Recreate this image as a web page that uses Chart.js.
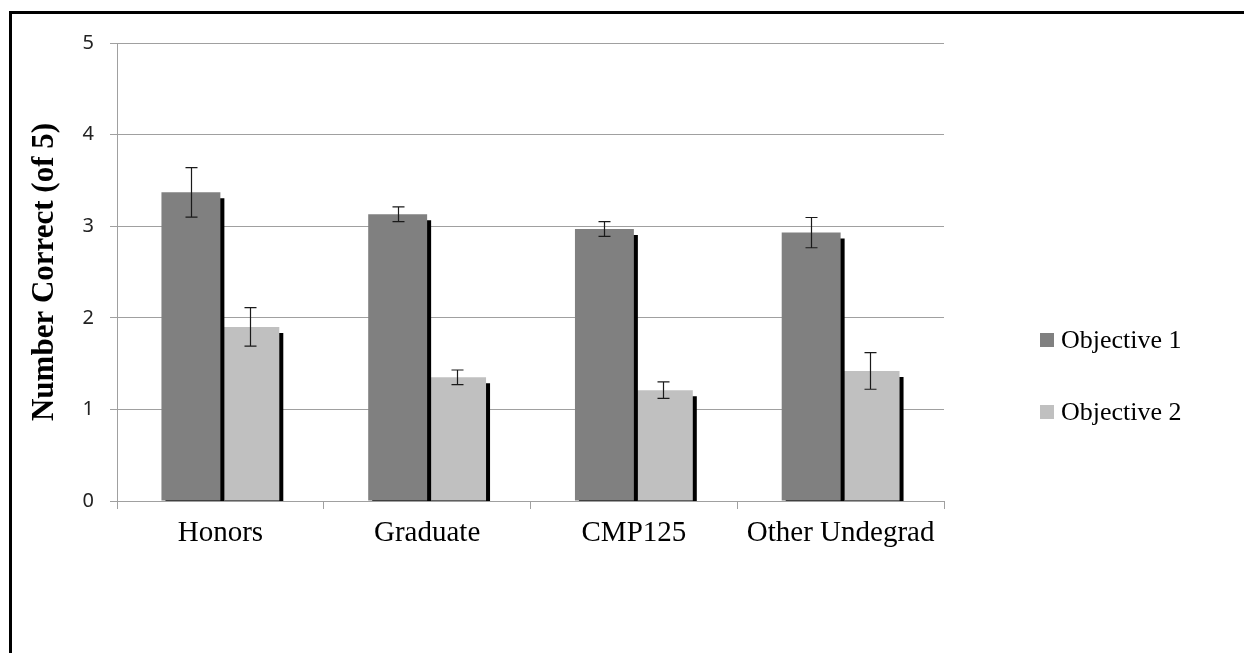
<!DOCTYPE html>
<html>
<head>
<meta charset="utf-8">
<script src="https://cdn.jsdelivr.net/npm/chart.js@4/dist/chart.umd.min.js"></script>
<style>
  html, body { margin: 0; padding: 0; background: #fff; overflow: hidden; }
  #wrap { position: relative; width: 1244px; height: 653px; }
  #frame { position: absolute; left: 9px; top: 11px; width: 2000px; height: 2000px;
           border-left: 3px solid #000; border-top: 3px solid #000; }
  canvas { position: absolute; left: 0; top: 0; }
</style>
</head>
<body>
<div id="wrap">
  <div id="frame"></div>
  <canvas id="chart" width="1244" height="653"></canvas>
</div>
<script>
// Data
const groups = ["Honors", "Graduate", "CMP125", "Other Undegrad"];
const objective1 = [3.37, 3.13, 2.97, 2.93];
const objective1Err = [0.27, 0.08, 0.08, 0.165];
const objective2 = [1.9, 1.35, 1.21, 1.42];
const objective2Err = [0.21, 0.08, 0.09, 0.2];
const yTicks = [0, 1, 2, 3, 4, 5];

const errors = [objective1Err, objective2Err];

// black drop shadow behind each bar
const barShadow = {
  id: "barShadow",
  beforeDatasetDraw(chart) {
    const ctx = chart.ctx;
    ctx.save();
    ctx.shadowColor = "#000";
    ctx.shadowBlur = 0;
    ctx.shadowOffsetX = 4;
    ctx.shadowOffsetY = 6;
  },
  afterDatasetDraw(chart) {
    chart.ctx.restore();
  },
};

// error bars with caps
const errorBars = {
  id: "errorBars",
  afterDatasetsDraw(chart) {
    const ctx = chart.ctx;
    const y = chart.scales.y;
    ctx.save();
    ctx.strokeStyle = "#1a1a1a";
    ctx.lineWidth = 1.2;
    chart.data.datasets.forEach((ds, i) => {
      const meta = chart.getDatasetMeta(i);
      meta.data.forEach((bar, j) => {
        const v = ds.data[j];
        const e = errors[i][j];
        const top = y.getPixelForValue(v + e);
        const bot = y.getPixelForValue(v - e);
        const x = Math.round(bar.x) + 0.5;
        ctx.beginPath();
        ctx.moveTo(x, top);
        ctx.lineTo(x, bot);
        ctx.moveTo(x - 6, top);
        ctx.lineTo(x + 6, top);
        ctx.moveTo(x - 6, bot);
        ctx.lineTo(x + 6, bot);
        ctx.stroke();
      });
    });
    ctx.restore();
  },
};

// legend at the right, like the original
const sideLegend = {
  id: "sideLegend",
  afterDraw(chart) {
    const ctx = chart.ctx;
    ctx.save();
    ctx.font = "26px 'Liberation Serif'";
    ctx.textBaseline = "middle";
    ctx.textAlign = "left";
    chart.data.datasets.forEach((ds, i) => {
      const cy = 340 + i * 72;
      ctx.fillStyle = ds.backgroundColor;
      ctx.fillRect(1040, cy - 7, 14, 14);
      ctx.fillStyle = "#000";
      ctx.fillText(ds.label, 1061, cy + 1);
    });
    ctx.restore();
  },
};

const ctx = document.getElementById("chart").getContext("2d");
new Chart(ctx, {
  type: "bar",
  data: {
    labels: groups,
    datasets: [
      {
        label: "Objective 1",
        data: objective1,
        backgroundColor: "#808080",
        categoryPercentage: 0.57,
        barPercentage: 1.0,
      },
      {
        label: "Objective 2",
        data: objective2,
        backgroundColor: "#c0c0c0",
        categoryPercentage: 0.57,
        barPercentage: 1.0,
      },
    ],
  },
  options: {
    responsive: false,
    animation: false,
    layout: { padding: { top: 43, right: 300, left: 0, bottom: 0 } },
    plugins: {
      legend: { display: false },
      tooltip: { enabled: false },
    },
    scales: {
      x: {
        offset: true,
        grid: {
          offset: true,
          drawOnChartArea: false,
          drawTicks: true,
          tickLength: 8,
          color: "#a0a0a0",
        },
        border: { color: "#a0a0a0", width: 1 },
        ticks: {
          color: "#000",
          padding: 7,
          font: { family: "'Liberation Serif'", size: 29 },
        },
        afterFit(scale) { scale.height = 152; },
      },
      y: {
        min: 0,
        max: 5,
        afterBuildTicks(scale) {
          scale.ticks = yTicks.map((v) => ({ value: v }));
        },
        grid: { color: "#a0a0a0", tickLength: 7 },
        border: { color: "#a0a0a0", width: 1 },
        ticks: {
          color: "#222",
          padding: 16,
          font: { family: "'Noto Sans'", size: 20 },
        },
        title: {
          display: true,
          text: "Number Correct (of 5)",
          color: "#000",
          padding: { top: 26, bottom: 0 },
          font: { family: "'Liberation Serif'", size: 31, weight: "bold" },
        },
        afterFit(scale) { scale.width = 117; },
      },
    },
  },
  plugins: [barShadow, errorBars, sideLegend],
});
</script>
</body>
</html>
